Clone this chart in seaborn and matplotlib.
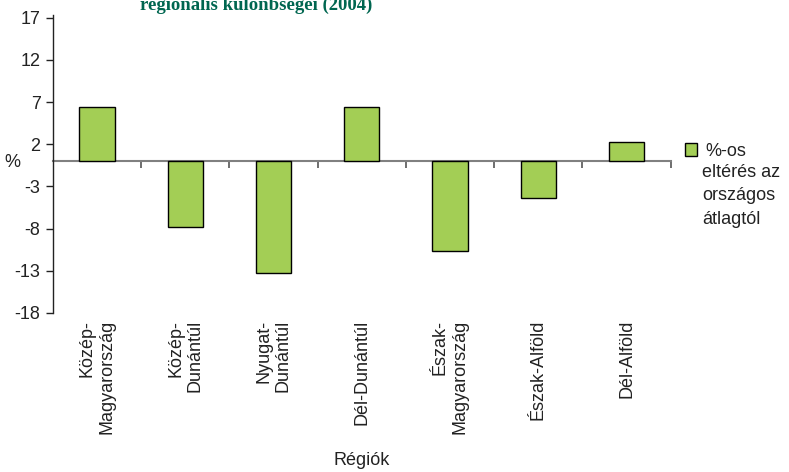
import matplotlib
matplotlib.use("Agg")
import matplotlib.pyplot as plt
import seaborn as sns
import pandas as pd

# adatok
regiok = ["Közép-\nMagyarország", "Közép-\nDunántúl", "Nyugat-\nDunántúl",
          "Dél-Dunántúl", "Észak-\nMagyarország", "Észak-Alföld", "Dél-Alföld"]
elteres = [6.4, -7.8, -13.3, 6.4, -10.7, -4.4, 2.3]
yticks = [17, 12, 7, 2, -3, -8, -13, -18]
cim = "regionális különbségei (2004)"
legend_sorok = ["%-os", "eltérés az", "országos", "átlagtól"]

sns.set_style("white")
plt.rcParams["font.family"] = ["Liberation Sans", "DejaVu Sans"]
plt.rcParams["font.size"] = 13

df = pd.DataFrame({"regio": regiok, "elteres": elteres})

fig = plt.figure(figsize=(7.89, 4.72), dpi=100)
ax = fig.add_axes([0.0672, 0.337, 0.7828, 0.631])

sns.barplot(data=df, x="regio", y="elteres", color="#A3CE55", saturation=1,
            edgecolor="black", linewidth=1, width=0.4, label=legend_sorok[0], ax=ax)

ax.set_xlim(-0.5, len(regiok) - 0.5)
ax.set_ylim(-18, 17.3)
ax.set_yticks(yticks)
ax.set_yticklabels([str(t) for t in yticks], fontsize=13, color="#222222")
ax.tick_params(axis="y", direction="out", length=5, width=1, color="#222222", pad=4, left=True)

for s in ["top", "right", "bottom"]:
    ax.spines[s].set_visible(False)
ax.spines["left"].set_color("#222222")
ax.spines["left"].set_linewidth(1)

# kategória feliratok lent
ax.tick_params(axis="x", length=0, pad=5, bottom=True)
ax.set_xticks(range(len(regiok)))
ax.set_xticklabels(regiok, rotation=90, ha="center", va="top",
                   multialignment="right", fontsize=13, color="#222222")
ax.set_xlabel("Régiók", fontsize=13, color="#222222", labelpad=13)
ax.set_ylabel("%", rotation=0, fontsize=13, color="#222222")
ax.yaxis.set_label_coords(-0.065, 0.475)

# nulla tengely a határoló osztásokkal
sec = ax.secondary_xaxis(0, transform=ax.transData)
sec.spines["bottom"].set_color("#808080")
sec.spines["bottom"].set_linewidth(1.5)
sec.set_xticks([i + 0.5 for i in range(len(regiok))])
sec.set_xticklabels([])
sec.tick_params(axis="x", direction="out", length=5, width=1.2, color="#555555")

leg = ax.legend(loc="upper left", bbox_to_anchor=(0.868, 0.697),
                bbox_transform=fig.transFigure, frameon=False, fontsize=13,
                handlelength=0.7, handleheight=0.7, handletextpad=0.45,
                borderpad=0, borderaxespad=0)
for t in leg.get_texts():
    t.set_color("#222222")
fig.text(702 / 789, 1 - 164 / 472, "\n".join(legend_sorok[1:]), fontsize=13,
         color="#222222", va="top", ha="left", linespacing=1.5)

fig.text(0.325, 1 - 10 / 472, cim, fontsize=13.5, fontweight="bold",
         family="Liberation Serif", color="#006650", ha="center", va="baseline")

fig.savefig("out.png", dpi=100)
